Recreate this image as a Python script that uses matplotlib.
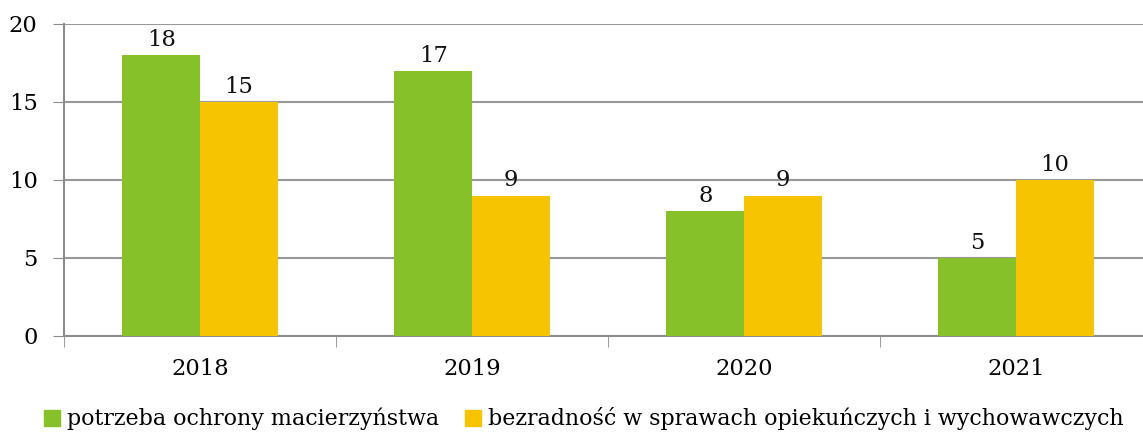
import matplotlib
matplotlib.use("Agg")
import matplotlib.pyplot as plt
import numpy as np
from matplotlib.patches import Patch

years = ["2018", "2019", "2020", "2021"]
ochrona = [18, 17, 8, 5]
bezradnosc = [15, 9, 9, 10]
series_names = ["potrzeba ochrony macierzyństwa",
                "bezradność w sprawach opiekuńczych i wychowawczych"]
colors = ["#86C129", "#F6C400"]

plt.rcParams['font.family'] = ['DejaVu Serif']
W, H = 1143, 433
fig = plt.figure(figsize=(W/100, H/100), dpi=100)
ax = fig.add_axes([64/W, (H-336)/H, 1088/W, 312/H])

FS = 16.3
x = np.arange(len(years))
bw = 0.285
b1 = ax.bar(x - bw/2, ochrona, bw, color=colors[0], zorder=3)
b2 = ax.bar(x + bw/2, bezradnosc, bw, color=colors[1], zorder=3)
for bars in (b1, b2):
    ax.bar_label(bars, padding=3, fontsize=FS, color="#111111")

ax.set_xlim(-0.5, len(years) - 0.5)
ax.set_ylim(0, 20)
ax.set_yticks([0, 5, 10, 15, 20])
ax.tick_params(axis='y', labelsize=FS, length=8, color="#8C8C8C", pad=11)
ax.set_xticks(x)
ax.set_xticklabels(years)
ax.tick_params(axis='x', which='major', length=0, labelsize=FS, pad=16)
ax.set_xticks(np.arange(-0.5, len(years)), minor=True)
ax.tick_params(axis='x', which='minor', length=8, color="#8C8C8C")
ax.grid(axis='y', color="#999999", linewidth=1.5, zorder=0)
for s in ["top", "right"]:
    ax.spines[s].set_visible(False)
for s in ["left", "bottom"]:
    ax.spines[s].set_color("#8C8C8C")
    ax.spines[s].set_linewidth(1.5)

handles = [Patch(color=c) for c in colors]
fig.legend(handles, series_names, loc='center left', bbox_to_anchor=(31/W, (H-419)/H),
           ncol=2, frameon=False, fontsize=15.9, handlelength=0.72, handleheight=0.72,
           handletextpad=0.3, columnspacing=1.2, borderaxespad=0.2)

fig.savefig("out.png", dpi=100)
